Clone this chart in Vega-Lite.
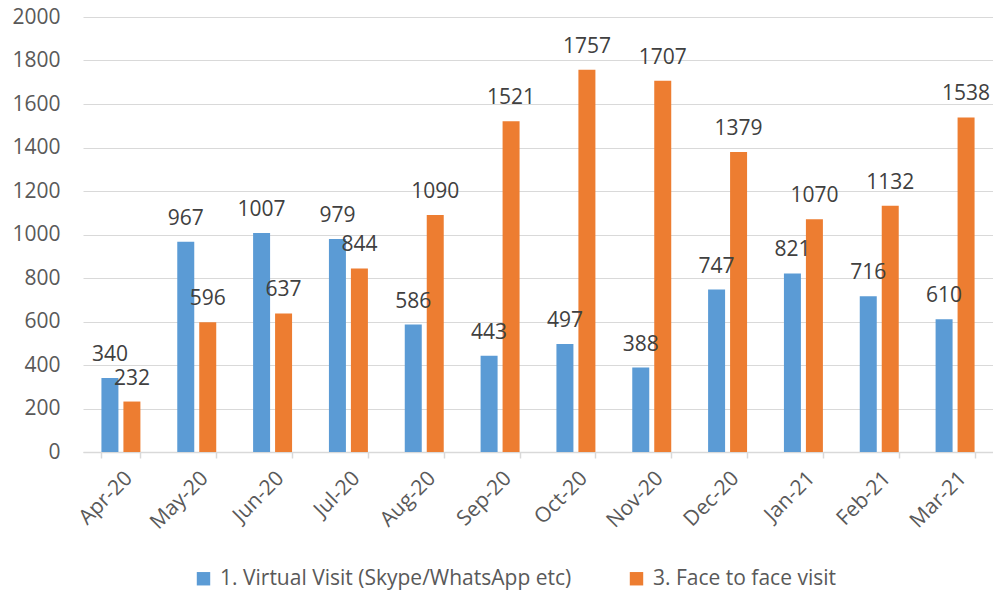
{
  "$schema": "https://vega.github.io/schema/vega-lite/v6.json",
  "width": 910,
  "height": 435,
  "autosize": "none",
  "padding": {"left": 83, "top": 17, "right": 0, "bottom": 143},
  "config": {
    "font": "Open Sans",
    "view": {"stroke": null},
    "axis": {"labelFont": "Open Sans", "labelColor": "#595959", "labelFontSize": 21}
  },
  "data": {
    "values": [
      {"month": "Apr-20", "series": "1. Virtual Visit (Skype/WhatsApp etc)", "value": 340},
      {"month": "Apr-20", "series": "3. Face to face visit", "value": 232},
      {"month": "May-20", "series": "1. Virtual Visit (Skype/WhatsApp etc)", "value": 967},
      {"month": "May-20", "series": "3. Face to face visit", "value": 596},
      {"month": "Jun-20", "series": "1. Virtual Visit (Skype/WhatsApp etc)", "value": 1007},
      {"month": "Jun-20", "series": "3. Face to face visit", "value": 637},
      {"month": "Jul-20", "series": "1. Virtual Visit (Skype/WhatsApp etc)", "value": 979},
      {"month": "Jul-20", "series": "3. Face to face visit", "value": 844},
      {"month": "Aug-20", "series": "1. Virtual Visit (Skype/WhatsApp etc)", "value": 586},
      {"month": "Aug-20", "series": "3. Face to face visit", "value": 1090},
      {"month": "Sep-20", "series": "1. Virtual Visit (Skype/WhatsApp etc)", "value": 443},
      {"month": "Sep-20", "series": "3. Face to face visit", "value": 1521},
      {"month": "Oct-20", "series": "1. Virtual Visit (Skype/WhatsApp etc)", "value": 497},
      {"month": "Oct-20", "series": "3. Face to face visit", "value": 1757},
      {"month": "Nov-20", "series": "1. Virtual Visit (Skype/WhatsApp etc)", "value": 388},
      {"month": "Nov-20", "series": "3. Face to face visit", "value": 1707},
      {"month": "Dec-20", "series": "1. Virtual Visit (Skype/WhatsApp etc)", "value": 747},
      {"month": "Dec-20", "series": "3. Face to face visit", "value": 1379},
      {"month": "Jan-21", "series": "1. Virtual Visit (Skype/WhatsApp etc)", "value": 821},
      {"month": "Jan-21", "series": "3. Face to face visit", "value": 1070},
      {"month": "Feb-21", "series": "1. Virtual Visit (Skype/WhatsApp etc)", "value": 716},
      {"month": "Feb-21", "series": "3. Face to face visit", "value": 1132},
      {"month": "Mar-21", "series": "1. Virtual Visit (Skype/WhatsApp etc)", "value": 610},
      {"month": "Mar-21", "series": "3. Face to face visit", "value": 1538}
    ]
  },
  "encoding": {
    "x": {
      "field": "month",
      "type": "nominal",
      "sort": null,
      "scale": {"paddingInner": 0.486, "paddingOuter": 0.243},
      "axis": {
        "title": null,
        "labelAngle": -45,
        "domainColor": "#d9d9d9",
        "domainWidth": 1.5,
        "tickColor": "#d9d9d9",
        "tickWidth": 1.5,
        "tickBand": "extent",
        "tickSize": 6,
        "labelPadding": 9
      }
    },
    "y": {
      "field": "value",
      "type": "quantitative",
      "scale": {"domain": [0, 2000]},
      "axis": {
        "title": null,
        "format": "d",
        "values": [0, 200, 400, 600, 800, 1000, 1200, 1400, 1600, 1800, 2000],
        "grid": true,
        "gridColor": "#d9d9d9",
        "gridWidth": 1.2,
        "domain": false,
        "ticks": false,
        "tickSize": 0,
        "labelPadding": 23
      }
    },
    "xOffset": {"field": "series", "type": "nominal", "scale": {"paddingInner": 0.227}},
    "color": {
      "field": "series",
      "type": "nominal",
      "scale": {
        "domain": ["1. Virtual Visit (Skype/WhatsApp etc)", "3. Face to face visit"],
        "range": ["#5B9BD5", "#ED7D31"]
      },
      "legend": {
        "title": null,
        "orient": "none",
        "direction": "horizontal",
        "legendX": 110,
        "legendY": 551,
        "symbolType": "square",
        "symbolSize": 180,
        "symbolStrokeWidth": 0,
        "labelFontSize": 21,
        "labelColor": "#595959",
        "labelFont": "Open Sans",
        "labelOffset": 6,
        "columnPadding": 54,
        "labelLimit": 500
      }
    }
  },
  "layer": [
    {"mark": {"type": "bar"}},
    {
      "mark": {"type": "text", "baseline": "alphabetic", "dy": -17, "fontSize": 21, "font": "Open Sans"},
      "encoding": {
        "text": {"field": "value", "type": "quantitative", "format": "d"},
        "color": {"value": "#404040"}
      }
    }
  ]
}
